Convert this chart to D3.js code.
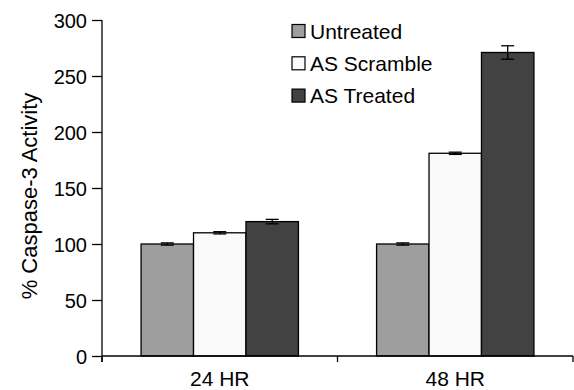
<!DOCTYPE html>
<html>
<head>
<meta charset="utf-8">
<script src="https://cdn.jsdelivr.net/npm/d3@7"></script>
<style>
    body { margin: 0; background: #fff; }
    text { font-family: "Liberation Sans", Arial, sans-serif; fill: #000; }
</style>
</head>
<body>
<svg id="chart" width="574" height="390"></svg>
<script>
var groups = ['24 HR', '48 HR'];
var series = ['Untreated', 'AS Scramble', 'AS Treated'];
var colors = ['#9e9e9e', '#f9f9f9', '#424242'];
var values = [
    [100, 110, 120],
    [100, 181, 271]
];
var errors = [
    [1, 1, 2],
    [1, 1, 6]
];
var yTicks = [0, 50, 100, 150, 200, 250, 300];

(function()
{
    var svg = d3.select('#chart'),
        left = 102, right = 573, top = 20, bottom = 356;

    var x = d3.scaleBand().domain(groups).range([left, right]).padding(0),
        xi = d3.scaleBand().domain(series).range([0, x.bandwidth()]).paddingInner(0).paddingOuter(0.745),
        y = d3.scaleLinear().domain([0, 300]).range([bottom, top]);

    // bars
    var g = svg.selectAll('g.grp').data(values).enter().append('g')
        .attr('class', 'grp')
        .attr('transform', function(d, i) { return 'translate(' + x(groups[i]) + ',0)'; });

    g.selectAll('rect').data(function(d) { return d; }).enter().append('rect')
        .attr('x', function(d, i) { return xi(series[i]); })
        .attr('y', function(d) { return y(d); })
        .attr('width', xi.bandwidth())
        .attr('height', function(d) { return y(0) - y(d); })
        .attr('fill', function(d, i) { return colors[i]; })
        .attr('stroke', '#000')
        .attr('stroke-width', 1.3);

    // error bars
    g.each(function(d, gi)
    {
        var el = d3.select(this);
        d.forEach(function(v, i)
        {
            var cx = xi(series[i]) + xi.bandwidth() / 2, e = errors[gi][i];
            el.append('line').attr('x1', cx).attr('x2', cx)
                .attr('y1', y(v + e)).attr('y2', y(v - e))
                .attr('stroke', '#000').attr('stroke-width', 1.3);
            [v + e, v - e].forEach(function(t)
            {
                el.append('line').attr('x1', cx - 6.5).attr('x2', cx + 6.5)
                    .attr('y1', y(t)).attr('y2', y(t))
                    .attr('stroke', '#000').attr('stroke-width', 1.3);
            });
        });
    });

    // y axis
    var ya = svg.append('g').attr('transform', 'translate(' + left + ',0)')
        .call(d3.axisLeft(y).tickValues(yTicks).tickSize(10).tickPadding(5));
    ya.select('.domain').attr('d', 'M0,' + top + 'V' + (bottom + 6));
    ya.selectAll('text').style('font-size', '20px').attr('dy', '0.35em');
    ya.selectAll('line, path').attr('stroke', '#000').attr('stroke-width', 1.3);

    // x axis
    var xa = svg.append('g').attr('transform', 'translate(0,' + bottom + ')');
    xa.append('line').attr('x1', left).attr('x2', right).attr('stroke', '#000').attr('stroke-width', 1.3);
    [left, x(groups[1]), right].forEach(function(t)
    {
        xa.append('line').attr('x1', t).attr('x2', t).attr('y1', 0).attr('y2', 6)
            .attr('stroke', '#000').attr('stroke-width', 1.3);
    });
    xa.selectAll('text.xl').data(groups).enter().append('text')
        .attr('class', 'xl')
        .attr('x', function(d) { return x(d) + x.bandwidth() / 2; })
        .attr('y', 30)
        .attr('text-anchor', 'middle')
        .style('font-size', '21px')
        .text(function(d) { return d; });

    // y title
    svg.append('text')
        .attr('transform', 'translate(37,196) rotate(-90)')
        .attr('text-anchor', 'middle')
        .style('font-size', '22px')
        .text('% Caspase-3 Activity');

    // legend
    var lg = svg.selectAll('g.lg').data(series).enter().append('g')
        .attr('class', 'lg')
        .attr('transform', function(d, i) { return 'translate(292,' + (31 + i * 32.3) + ')'; });
    lg.append('rect').attr('x', 0).attr('y', -6.5).attr('width', 13).attr('height', 13)
        .attr('fill', function(d, i) { return colors[i]; })
        .attr('stroke', '#000').attr('stroke-width', 1.2);
    lg.append('text').attr('x', 18).attr('y', 0).attr('dy', '0.36em')
        .style('font-size', '21px')
        .text(function(d) { return d; });
})();
</script>
</body>
</html>
